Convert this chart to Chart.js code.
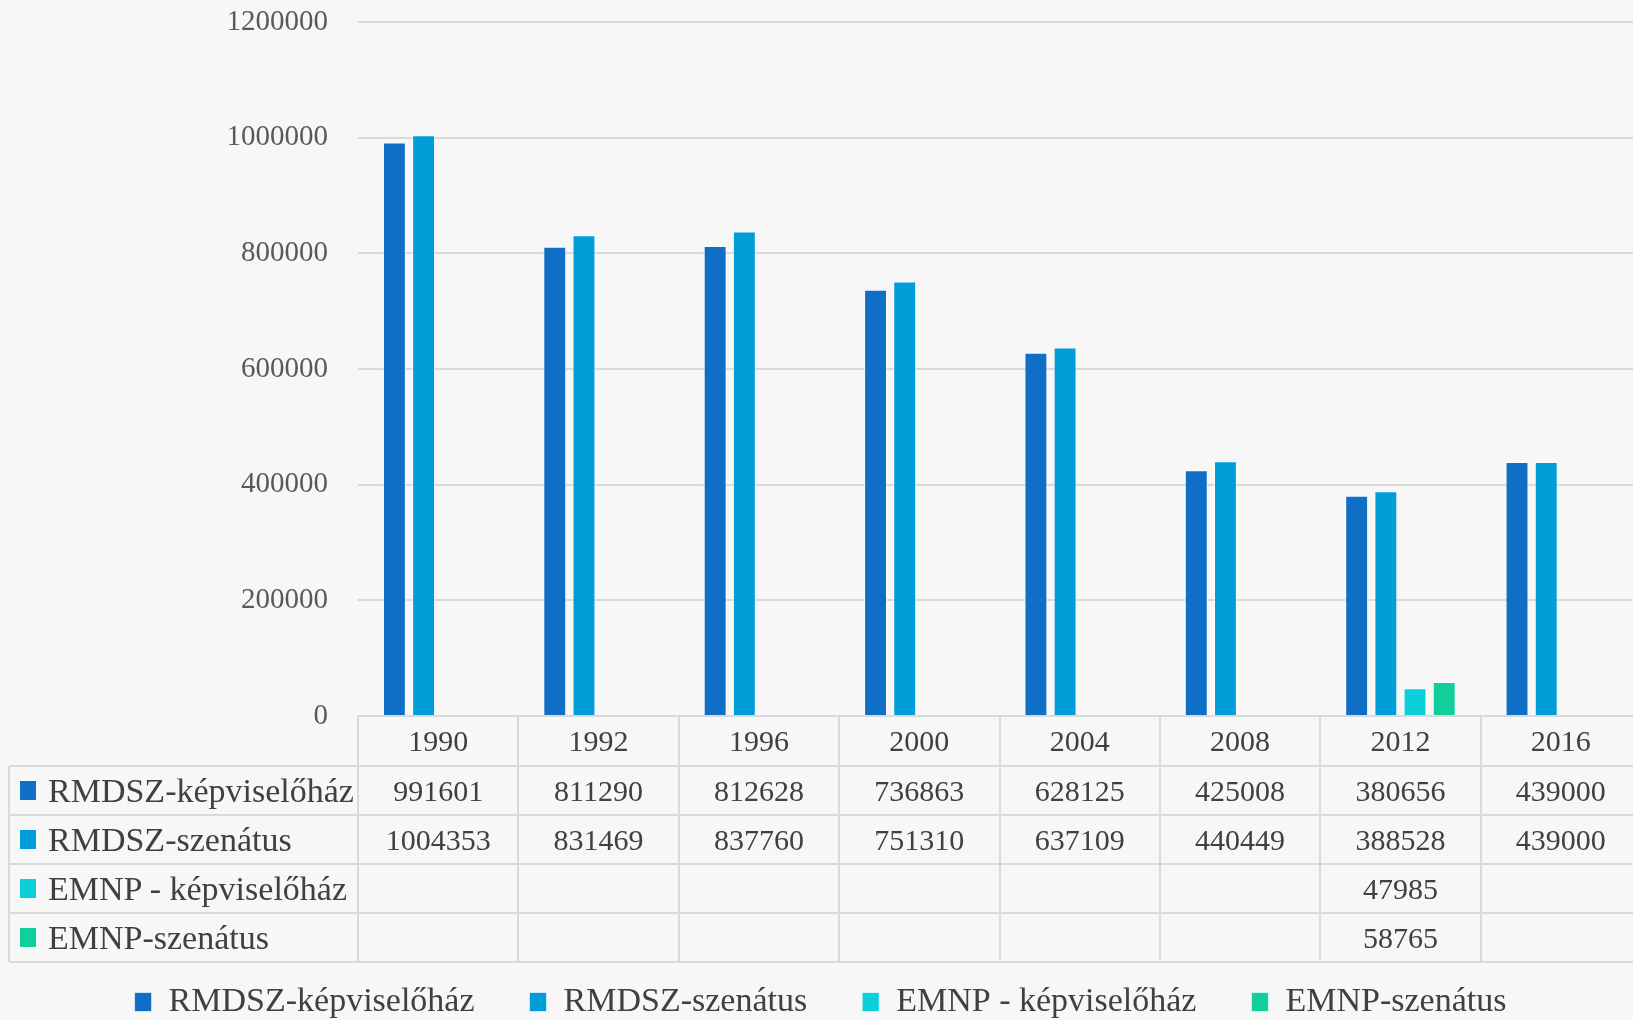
<!DOCTYPE html>
<html>
<head>
<meta charset="utf-8">
<script src="https://cdn.jsdelivr.net/npm/chart.js@4.4.1/dist/chart.umd.min.js"></script>
<style>
    html, body { margin: 0; padding: 0; background: #f7f7f7; overflow: hidden; }
    #wrap { position: relative; width: 1645px; height: 1029px; }
    #chartBox { position: absolute; left: 0; top: 0; width: 1645px; height: 1029px; }
    #table { position: absolute; left: 0; top: 0; }
    .line { position: absolute; background: #d9d9d9; }
    .cell {
        position: absolute; box-sizing: border-box;
        display: flex; align-items: center; justify-content: center;
        font-family: 'Liberation Serif', serif; color: #404040; font-size: 30px;
        white-space: nowrap;
    }
    .cell.name { justify-content: flex-start; font-size: 34px; }
    .key { display: inline-block; width: 16px; height: 19px; margin: 0 12px 0 11px; }
</style>
</head>
<body>
<div id="wrap">
    <div id="chartBox"><canvas id="chart"></canvas></div>
    <div id="table"></div>
</div>
<script>
// ========== DATA ==========
const years = ['1990', '1992', '1996', '2000', '2004', '2008', '2012', '2016'];
const rmdszKepviselohaz = [991601, 811290, 812628, 736863, 628125, 425008, 380656, 439000];
const rmdszSzenatus = [1004353, 831469, 837760, 751310, 637109, 440449, 388528, 439000];
const emnpKepviselohaz = [null, null, null, null, null, null, 47985, null];
const emnpSzenatus = [null, null, null, null, null, null, 58765, null];
const seriesNames = ['RMDSZ-képviselőház', 'RMDSZ-szenátus', 'EMNP - képviselőház', 'EMNP-szenátus'];
const seriesColors = ['#0F6FC6', '#009DD9', '#0BD0D9', '#10CF9B'];
const yMax = 1200000;
const yStep = 200000;

const seriesValues = [rmdszKepviselohaz, rmdszSzenatus, emnpKepviselohaz, emnpSzenatus];
const fontFamily = "'Liberation Serif', serif";

// ========== CHART ==========
const chart = new Chart(document.getElementById('chart'), {
    type: 'bar',
    data: {
        labels: years,
        datasets: seriesNames.map((name, i) => ({
            label: name,
            data: seriesValues[i],
            backgroundColor: seriesColors[i],
            borderColor: 'rgba(255, 255, 255, 0.6)',
            borderWidth: 1,
            categoryPercentage: 0.728,
            barPercentage: 0.785
        }))
    },
    options: {
        responsive: true,
        maintainAspectRatio: false,
        animation: false,
        layout: {
            padding: { top: 22, right: 4, bottom: 0, left: 0 }
        },
        plugins: {
            tooltip: { enabled: false },
            legend: {
                position: 'bottom',
                labels: {
                    color: '#404040',
                    font: { family: fontFamily, size: 34 },
                    boxWidth: 17,
                    boxHeight: 19,
                    padding: 55
                }
            }
        },
        scales: {
            x: {
                afterFit: scale => { scale.height = 214; },
                ticks: { display: false },
                grid: { display: false },
                border: { display: false }
            },
            y: {
                min: 0,
                max: yMax,
                afterFit: scale => {
                    scale.width = 358;
                    scale.paddingTop = 0;
                    scale.paddingBottom = 0;
                },
                ticks: {
                    stepSize: yStep,
                    padding: 30,
                    color: '#595959',
                    font: { family: fontFamily, size: 29 },
                    callback: value => String(value)
                },
                grid: {
                    color: '#d9d9d9',
                    lineWidth: 2,
                    drawTicks: false
                },
                border: { display: false }
            }
        }
    }
});

// ========== DATA TABLE ==========
function buildTable() {
    const table = document.getElementById('table');
    table.innerHTML = '';
    const area = chart.chartArea;
    const xScale = chart.scales.x;
    const colW = (area.right - area.left) / years.length;
    const tableLeft = 9;
    const headerH = 50;
    const rowH = 49;
    const top = area.bottom;
    const bottom = top + headerH + rowH * seriesNames.length;

    const addLine = (x, y, w, h) => {
        const d = document.createElement('div');
        d.className = 'line';
        Object.assign(d.style, { left: x + 'px', top: y + 'px', width: w + 'px', height: h + 'px' });
        table.appendChild(d);
    };
    const addCell = (x, y, w, h, html, cls) => {
        const d = document.createElement('div');
        d.className = 'cell' + (cls ? ' ' + cls : '');
        Object.assign(d.style, { left: x + 'px', top: y + 'px', width: w + 'px', height: h + 'px' });
        d.innerHTML = html;
        table.appendChild(d);
    };

    // horizontal lines
    addLine(area.left, top - 1, area.right - area.left, 2);
    for (let r = 0; r <= seriesNames.length; r++) {
        const y = top + headerH + r * rowH;
        addLine(tableLeft, y - 1, area.right - tableLeft, 2);
    }
    // vertical lines
    for (let c = 0; c <= years.length; c++) {
        const x = area.left + c * colW;
        addLine(x - 1, top, 2, bottom - top);
    }
    addLine(tableLeft - 1, top + headerH, 2, bottom - top - headerH);

    // header: years
    years.forEach((yr, c) => {
        const cx = xScale.getPixelForValue(c);
        addCell(cx - colW / 2, top, colW, headerH, yr);
    });

    // rows
    seriesNames.forEach((name, r) => {
        const y = top + headerH + r * rowH;
        addCell(tableLeft, y, area.left - tableLeft, rowH,
            '<span class="key" style="background:' + seriesColors[r] + '"></span>' + name, 'name');
        seriesValues[r].forEach((v, c) => {
            if (v === null) return;
            const cx = xScale.getPixelForValue(c);
            addCell(cx - colW / 2, y, colW, rowH, String(v));
        });
    });
}

buildTable();
</script>
</body>
</html>
